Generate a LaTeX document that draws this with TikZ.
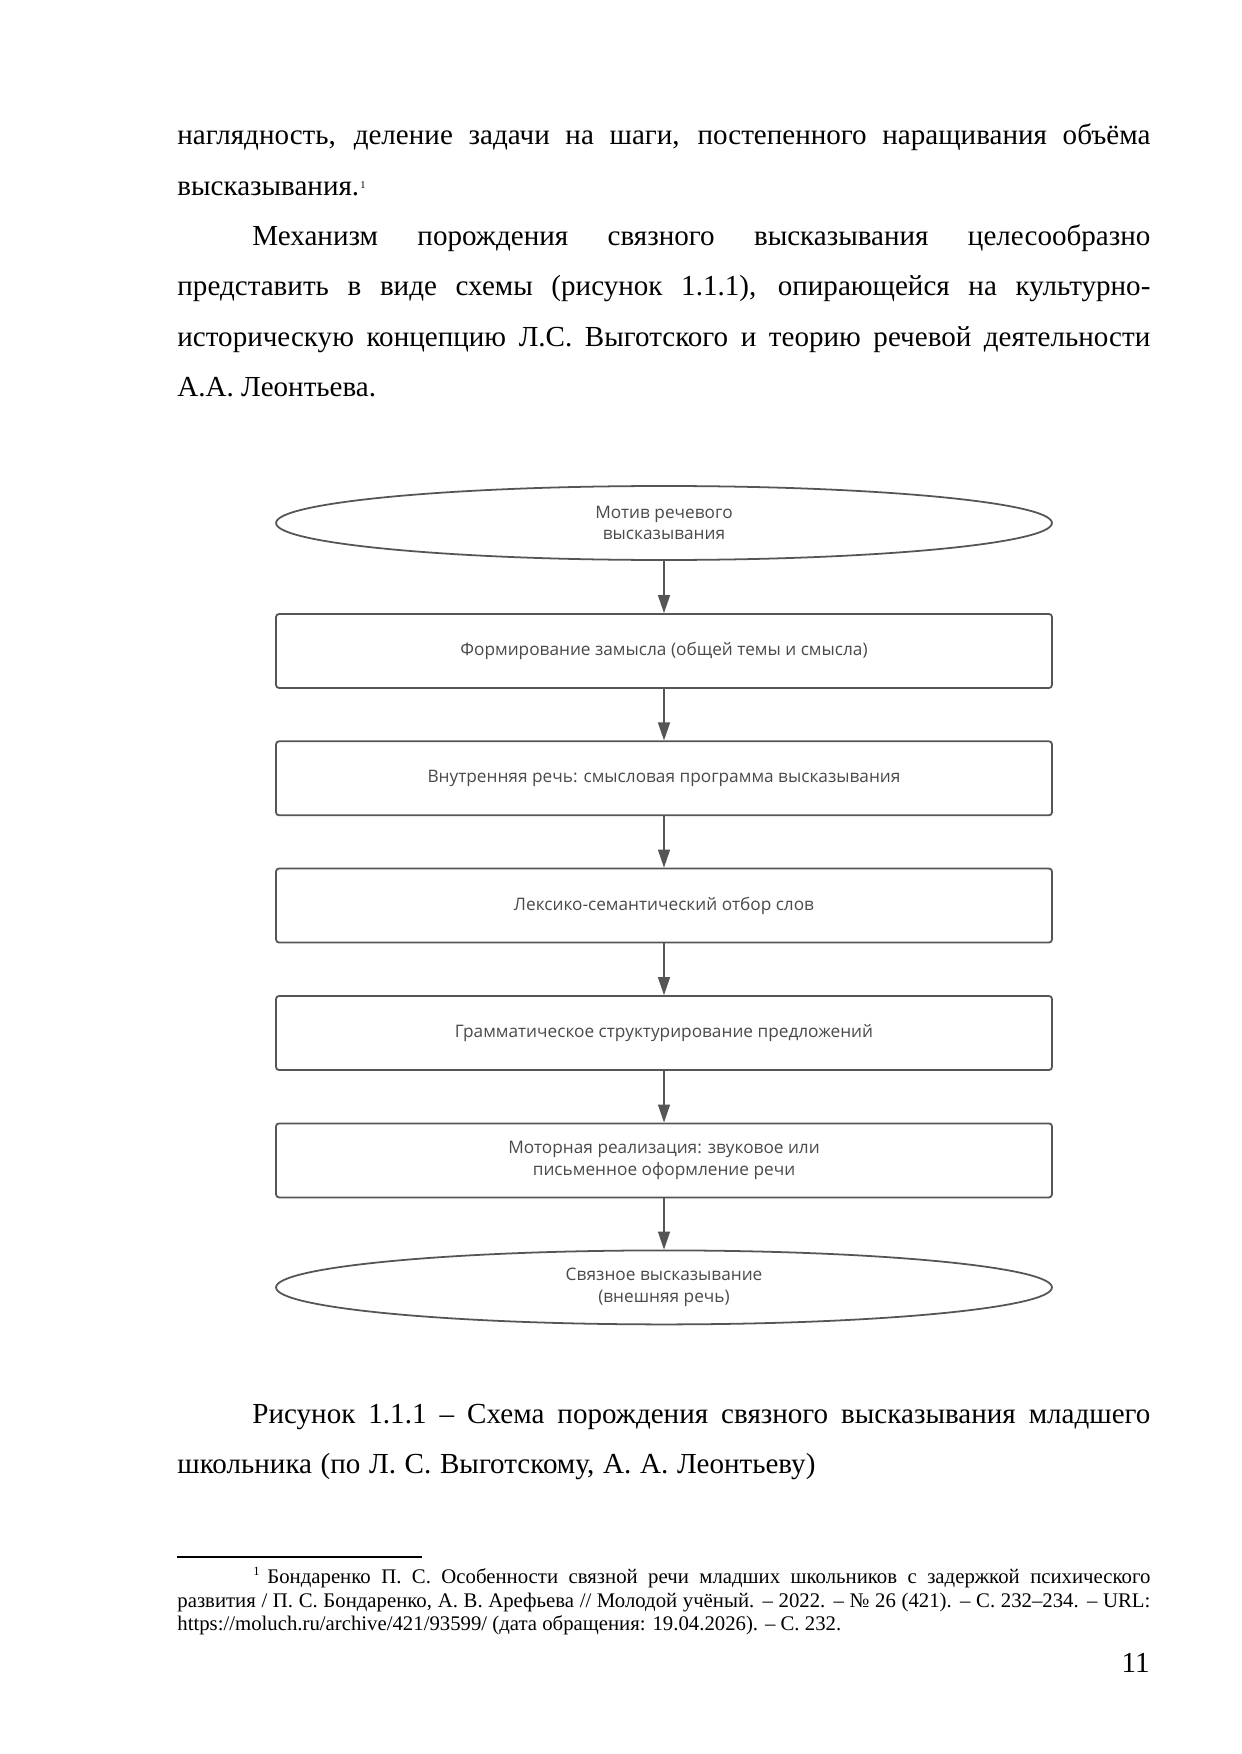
\documentclass[tikz,border=0pt]{standalone}
\usepackage{fontspec}
\setmainfont{Liberation Serif}
\newfontfamily\diafont{Open Sans}
\usetikzlibrary{shapes.geometric,arrows.meta}
\newlength\pxu
\setlength\pxu{0.169218mm}
\definecolor{dgray}{HTML}{555555}
\definecolor{tgray}{HTML}{4A4A4A}
\tikzset{
  bodyline/.style={anchor=base west, inner sep=0pt, font=\fontsize{14}{16}\selectfont},
  fnline/.style={anchor=base west, inner sep=0pt, font=\fontsize{10}{11.5}\selectfont},
  stepbox/.style={draw=dgray, line width=0.3mm, rounded corners=0.5mm, minimum width=131.3mm, minimum height=12.52mm, inner sep=0pt, align=center, text=tgray, font=\diafont\fontsize{8.3}{10.2}\selectfont},
  termbox/.style={ellipse, draw=dgray, line width=0.3mm, minimum width=131.3mm, minimum height=12.52mm, inner sep=0pt, align=center, text=tgray, font=\diafont\fontsize{8.3}{10.2}\selectfont},
  flow/.style={draw=dgray, line width=0.25mm, -{Triangle[length=3.05mm,width=2.03mm]}}
}
\begin{document}
\begin{tikzpicture}[x=0.169218mm, y=-0.169218mm]
\useasboundingbox (0,0) rectangle (1241,1754);
\fill[white] (0,0) rectangle (1241,1754);
% body text
\node[bodyline] (t1) at (177,145) {\makebox[973\pxu][s]{наглядность, деление задачи на шаги, постепенного наращивания объёма}};
\node[bodyline] (t2) at (177,195.3) {высказывания.\kern0.6pt\raisebox{3.4pt}{\fontsize{5}{6}\selectfont 1}};
\node[bodyline] (t3) at (252,245.6) {\makebox[898\pxu][s]{Механизм порождения связного высказывания целесообразно}};
\node[bodyline] (t4) at (177,295.9) {\makebox[973\pxu][s]{представить в виде схемы (рисунок 1.1.1), опирающейся на культурно-}};
\node[bodyline] (t5) at (177,346.2) {\makebox[973\pxu][s]{историческую концепцию Л.С. Выготского и теорию речевой деятельности}};
\node[bodyline] (t6) at (177,396.5) {А.А. Леонтьева.};
% diagram
\node[termbox] (e1) at (664,523) {Мотив речевого\\высказывания};
\node[stepbox] (b1) at (664,651) {Формирование замысла (общей темы и смысла)};
\node[stepbox] (b2) at (664,778.3) {Внутренняя речь: смысловая программа высказывания};
\node[stepbox] (b3) at (664,905.5) {Лексико-семантический отбор слов};
\node[stepbox] (b4) at (664,1033) {Грамматическое структурирование предложений};
\node[stepbox] (b5) at (664,1160.4) {Моторная реализация: звуковое или\\письменное оформление речи};
\node[termbox] (e2) at (664,1287.4) {Связное высказывание\\(внешняя речь)};
\draw[flow] (e1) -- (b1);
\draw[flow] (b1) -- (b2);
\draw[flow] (b2) -- (b3);
\draw[flow] (b3) -- (b4);
\draw[flow] (b4) -- (b5);
\draw[flow] (b5) -- (e2);
% caption
\node[bodyline] (c1) at (252,1423) {\makebox[898\pxu][s]{Рисунок 1.1.1 – Схема порождения связного высказывания младшего}};
\node[bodyline] (c2) at (177,1473) {\makebox[638\pxu][s]{школьника (по Л. С. Выготскому, А. А. Леонтьеву)}};
% footnote
\draw[line width=0.34mm] (177,1557) -- (422,1557);
\node[fnline] (fm) at (253,1583) {\raisebox{3.8pt}{\fontsize{6}{7}\selectfont 1}};
\node[fnline] (f1) at (267,1583) {\makebox[883\pxu][s]{Бондаренко П. С. Особенности связной речи младших школьников с задержкой психического}};
\node[fnline] (f2) at (177,1607) {\makebox[973\pxu][s]{развития / П. С. Бондаренко, А. В. Арефьева // Молодой учёный. – 2022. – № 26 (421). – С. 232–234. – URL:}};
\node[fnline] (f3) at (177,1630) {https://moluch.ru/archive/421/93599/ (дата обращения: 19.04.2026). – С. 232.};
% page number
\node[anchor=base east, inner sep=0pt, font=\fontsize{14}{16}\selectfont] (pn) at (1150,1672) {11};
\end{tikzpicture}
\end{document}
